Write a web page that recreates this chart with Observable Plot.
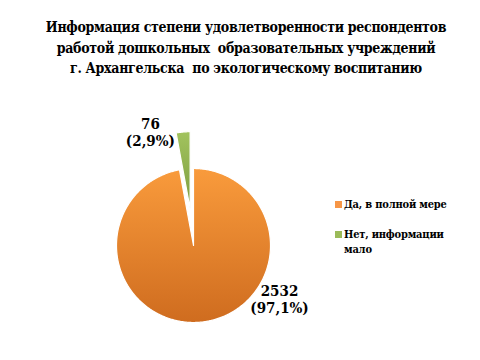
<!DOCTYPE html>
<html><head><meta charset="utf-8">
<script src="https://cdn.jsdelivr.net/npm/d3@7"></script>
<script src="https://cdn.jsdelivr.net/npm/@observablehq/plot@0.6"></script>
<style>
body{margin:0;background:#fff}
#wrap{position:relative;width:480px;height:360px;font-weight:bold;color:#000;font-family:'DejaVu Serif Condensed','DejaVu Serif',serif;font-stretch:condensed}
#title{position:absolute;left:6px;top:17px;width:480px;text-align:center;font-size:14px;letter-spacing:-0.3px;line-height:20.5px;white-space:nowrap}
.leg{position:absolute;left:335px;font-size:11px;letter-spacing:-0.2px;line-height:15px;display:flex;align-items:flex-start;white-space:nowrap}
.sw{width:7px;height:7px;margin-top:4px;margin-right:2px;flex:none}
</style>
</head><body>
<div id="wrap">
<div id="chart"></div>
<div id="title">Информация степени удовлетворенности респондентов<br>работой дошкольных&nbsp; образовательных учреждений<br>г. Архангельска&nbsp; по экологическому воспитанию</div>
<div id="legend"></div>
</div>
<script>
const categories = ["Да, в полной мере", "Нет, информации мало"];
const values = [2532, 76];
const percents = ["97,1%", "2,9%"];
const legendTexts = ["Да, в полной мере", "Нет, информации\nмало"];
const swatch = ["#F79646", "#9BBB59"];

// layout
const cx = 193, cy = 245, R = 77;
const explode = [0, 0.48];
const labelPos = [[1.117, -0.695], [-0.56, 1.47]];
const serif = "'DejaVu Serif Condensed','DejaVu Serif',serif";

const arcs = d3.pie().sort(null).value(d => d)(values);
const pts = [];
arcs.forEach((a, i) => {
  const mid = (a.startAngle + a.endAngle) / 2;
  const ox = explode[i] * Math.sin(mid), oy = explode[i] * Math.cos(mid);
  pts.push({cat: categories[i], x: ox, y: oy});
  const n = Math.max(2, Math.ceil((a.endAngle - a.startAngle) / 0.01));
  for (let k = 0; k <= n; k++) {
    const t = a.startAngle + (a.endAngle - a.startAngle) * k / n;
    pts.push({cat: categories[i], x: ox + Math.sin(t), y: oy + Math.cos(t)});
  }
  pts.push({cat: categories[i], x: ox, y: oy});
});
const labels = values.map((v, i) => ({x: labelPos[i][0], y: labelPos[i][1], t: `${v}\n(${percents[i]})`}));

const defs = () => {
  const d = d3.create("svg:defs");
  const g = [["g0", "#F99B3C", "#CF6C1F"], ["g1", "#A2C35E", "#7C9C3E"]];
  g.forEach(([id, a, b]) => {
    const lg = d.append("linearGradient").attr("id", id).attr("x1", 0).attr("y1", 0).attr("x2", 0).attr("y2", 1);
    lg.append("stop").attr("offset", 0).attr("stop-color", a);
    lg.append("stop").attr("offset", 1).attr("stop-color", b);
  });
  return d.node();
};

const chart = Plot.plot({
  width: 480, height: 360,
  margin: 0,
  style: {fontFamily: serif, fontStretch: "condensed"},
  x: {domain: [-1, 1], range: [cx - R, cx + R], axis: null},
  y: {domain: [-1, 1], range: [cy + R, cy - R], axis: null},
  marks: [
    defs,
    Plot.line(pts.filter(d => d.cat === categories[0]), {x: "x", y: "y", fill: "url(#g0)", stroke: "white", strokeWidth: 1.2, curve: "linear"}),
    Plot.line(pts.filter(d => d.cat === categories[1]), {x: "x", y: "y", fill: "url(#g1)", stroke: "white", strokeWidth: 1.2, curve: "linear"}),
    Plot.text(labels, {x: "x", y: "y", text: "t", fontSize: 15, fontWeight: "bold", fontFamily: serif, fill: "black", lineHeight: 1.15, lineAnchor: "middle"})
  ]
});
document.getElementById("chart").append(chart);

const legTops = [197, 227];
const leg = document.getElementById("legend");
categories.forEach((c, i) => {
  const it = document.createElement("div");
  it.className = "leg";
  it.style.top = legTops[i] + "px";
  it.innerHTML = `<div class="sw" style="background:${swatch[i]}"></div><div>${legendTexts[i].replace("\n", "<br>")}</div>`;
  leg.append(it);
});
</script>
</body></html>
